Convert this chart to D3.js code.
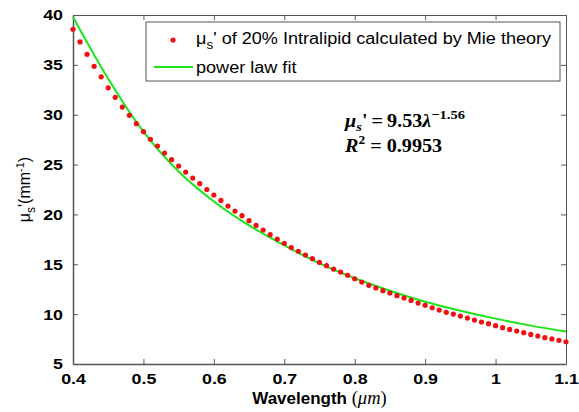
<!DOCTYPE html>
<html>
<head>
<meta charset="utf-8">
<script src="https://cdn.jsdelivr.net/npm/d3@7"></script>
<style>
  body { margin: 0; background: #fff; }
  svg { display: block; }
  .tick text { font-family: Arial, "Liberation Sans", sans-serif; font-weight: bold; font-size: 15.5px; fill: #000; }
</style>
</head>
<body>
<svg id="chart" width="579" height="412"></svg>
<script>
// wavelength (um) of the Mie points
const mieWavelengths = [
  0.40, 0.41, 0.42, 0.43, 0.44, 0.45, 0.46, 0.47, 0.48, 0.49,
  0.50, 0.51, 0.52, 0.53, 0.54, 0.55, 0.56, 0.57, 0.58, 0.59,
  0.60, 0.61, 0.62, 0.63, 0.64, 0.65, 0.66, 0.67, 0.68, 0.69,
  0.70, 0.71, 0.72, 0.73, 0.74, 0.75, 0.76, 0.77, 0.78, 0.79,
  0.80, 0.81, 0.82, 0.83, 0.84, 0.85, 0.86, 0.87, 0.88, 0.89,
  0.90, 0.91, 0.92, 0.93, 0.94, 0.95, 0.96, 0.97, 0.98, 0.99,
  1.00, 1.01, 1.02, 1.03, 1.04, 1.05, 1.06, 1.07, 1.08, 1.09, 1.10
];
// mu_s' (mm^-1)
const mieValues = [
  38.57, 37.3, 36.06, 34.85, 33.8, 32.7, 31.74, 30.77, 29.94, 29.1,
  28.3, 27.53, 26.86, 26.16, 25.49, 24.85, 24.25, 23.65, 23.08, 22.5,
  21.95, 21.4, 20.84, 20.34, 19.87, 19.37, 18.9, 18.44, 17.97, 17.53,
  17.1, 16.68, 16.3, 15.93, 15.56, 15.19, 14.86, 14.52, 14.22, 13.9,
  13.55, 13.22, 12.89, 12.62, 12.35, 12.12, 11.85, 11.62, 11.38, 11.11,
  10.88, 10.64, 10.41, 10.18, 10.01, 9.81, 9.61, 9.41, 9.21, 9.04,
  8.84, 8.64, 8.47, 8.31, 8.14, 7.97, 7.81, 7.64, 7.51, 7.37, 7.23
];
// power law fit line
const fitWavelengths = [0.40, 0.45, 0.50, 0.55, 0.60, 0.65, 0.70, 0.75, 0.80, 0.85, 0.90, 0.95, 1.00, 1.05, 1.10];
const fitValues = [39.8, 33.6, 28.3, 24.3, 21.3, 18.9, 16.9, 15.1, 13.6, 12.35, 11.25, 10.35, 9.55, 8.85, 8.25];

const xTicks = [0.4, 0.5, 0.6, 0.7, 0.8, 0.9, 1, 1.1];
const yTicks = [5, 10, 15, 20, 25, 30, 35, 40];

const width = 579, height = 412;
const margin = { top: 15, right: 13, bottom: 48, left: 73 };
const stretchX = 1.15; // the original picture is a bit wider than tall in its glyphs

const svg = d3.select("#chart");

const x = d3.scaleLinear().domain([0.4, 1.1]).range([margin.left, width - margin.right]);
const y = d3.scaleLinear().domain([5, 40]).range([height - margin.bottom, margin.top]);

const axisColor = "#555";

// widen glyphs around their own anchor
function stretch(sel, k) {
  sel.each(function () {
    const tx = +this.getAttribute("x") || 0;
    const ty = +this.getAttribute("y") || 0;
    this.setAttribute("x", 0);
    this.setAttribute("y", 0);
    this.setAttribute("transform", `translate(${tx},${ty}) scale(${k},1)`);
  });
}

// box + ticks on all four sides (matlab style, ticks pointing in)
svg.append("g")
  .attr("transform", `translate(0,${height - margin.bottom})`)
  .call(d3.axisBottom(x).tickValues(xTicks).tickSizeInner(-5).tickSizeOuter(0).tickPadding(9).tickFormat(d3.format("")))
  .call(g => g.selectAll("line").attr("stroke", axisColor))
  .call(g => g.select(".domain").attr("stroke", axisColor).attr("stroke-width", 1.5))
  .call(g => stretch(g.selectAll("text"), stretchX));

svg.append("g")
  .attr("transform", `translate(${margin.left},0)`)
  .call(d3.axisLeft(y).tickValues(yTicks).tickSizeInner(-5).tickSizeOuter(0).tickPadding(10))
  .call(g => g.selectAll("line").attr("stroke", axisColor))
  .call(g => g.select(".domain").attr("stroke", axisColor).attr("stroke-width", 1.5))
  .call(g => stretch(g.selectAll("text"), stretchX));

svg.append("g")
  .attr("transform", `translate(0,${margin.top})`)
  .call(d3.axisTop(x).tickValues(xTicks).tickSizeInner(-5).tickSizeOuter(0).tickFormat(""))
  .call(g => g.selectAll("line").attr("stroke", axisColor))
  .call(g => g.select(".domain").attr("stroke", axisColor));

svg.append("g")
  .attr("transform", `translate(${width - margin.right},0)`)
  .call(d3.axisRight(y).tickValues(yTicks).tickSizeInner(-5).tickSizeOuter(0).tickFormat(""))
  .call(g => g.selectAll("line").attr("stroke", axisColor))
  .call(g => g.select(".domain").attr("stroke", axisColor));

// fit line
const fitData = fitWavelengths.map((w, i) => ({ w, v: fitValues[i] }));
svg.append("path")
  .datum(fitData)
  .attr("fill", "none")
  .attr("stroke", "#19e619")
  .attr("stroke-width", 2)
  .attr("d", d3.line().curve(d3.curveMonotoneX).x(d => x(d.w)).y(d => y(d.v)));

// mie dots
const mieData = mieWavelengths.map((w, i) => ({ w, v: mieValues[i] }));
svg.append("g")
  .selectAll("circle")
  .data(mieData)
  .join("circle")
  .attr("cx", d => x(d.w))
  .attr("cy", d => y(d.v))
  .attr("r", 2.6)
  .attr("fill", "#f01010");

// legend
const legend = svg.append("g");
legend.append("rect")
  .attr("x", 146).attr("y", 22).attr("width", 414).attr("height", 59)
  .attr("fill", "#fff").attr("stroke", "#555").attr("stroke-width", 1);
legend.append("circle").attr("cx", 173).attr("cy", 40).attr("r", 2.6).attr("fill", "#f01010");
legend.append("line").attr("x1", 154).attr("x2", 193).attr("y1", 67).attr("y2", 67)
  .attr("stroke", "#19e619").attr("stroke-width", 2);

const legFont = 'Arial, "Liberation Sans", sans-serif';
const t1 = legend.append("text").attr("x", 196).attr("y", 44)
  .attr("font-family", legFont).attr("font-size", 16).attr("fill", "#000");
t1.append("tspan").text("\u03bc");
t1.append("tspan").attr("font-size", 12).attr("dy", 5).text("s");
t1.append("tspan").attr("dy", -5).text("' of 20% Intralipid calculated by Mie theory");
const t2 = legend.append("text").attr("x", 196).attr("y", 73)
  .attr("font-family", legFont).attr("font-size", 16).attr("fill", "#000")
  .text("power law fit");
stretch(t1, 1.13);
stretch(t2, 1.13);

// equation annotation
const serif = '"Liberation Serif", "Times New Roman", serif';
const eq = svg.append("text").attr("x", 345).attr("y", 127)
  .attr("font-family", serif).attr("font-size", 18).attr("font-weight", "bold").attr("fill", "#000");
eq.append("tspan").attr("font-style", "italic").text("\u03bc");
eq.append("tspan").attr("font-style", "italic").attr("font-size", 13).attr("dy", 4).text("s");
eq.append("tspan").attr("dy", -4).text("'\u2009=\u20099.53");
eq.append("tspan").attr("font-style", "italic").text("\u03bb");
eq.append("tspan").attr("font-size", 13).attr("dy", -8).text("\u22121.56");

const r2 = svg.append("text").attr("x", 345).attr("y", 152)
  .attr("font-family", serif).attr("font-size", 18).attr("font-weight", "bold").attr("fill", "#000");
r2.append("tspan").attr("font-style", "italic").text("R");
r2.append("tspan").attr("font-size", 12).attr("dy", -8).text("2");
r2.append("tspan").attr("dy", 8).text(" = 0.9953");
stretch(eq, 1.12);
stretch(r2, 1.12);

// axis labels
const xl = svg.append("text")
  .attr("x", (margin.left + width - margin.right) / 2).attr("y", 404)
  .attr("text-anchor", "middle").attr("fill", "#000");
xl.append("tspan").attr("font-family", legFont).attr("font-weight", "bold").attr("font-size", 16.5).text("Wavelength ");
xl.append("tspan").attr("font-family", serif).attr("font-size", 18).text("(");
xl.append("tspan").attr("font-family", serif).attr("font-style", "italic").attr("font-size", 18).text("\u03bcm");
xl.append("tspan").attr("font-family", serif).attr("font-size", 18).text(")");
stretch(xl, 1.03);

const yl = svg.append("text")
  .attr("transform", `translate(30,${(margin.top + height - margin.bottom) / 2}) rotate(-90)`)
  .attr("text-anchor", "middle")
  .attr("font-family", legFont).attr("font-size", 16).attr("fill", "#000");
yl.append("tspan").text("\u03bc");
yl.append("tspan").attr("font-size", 12).attr("dy", 5).text("s");
yl.append("tspan").attr("dy", -5).text("'(mm");
yl.append("tspan").attr("font-size", 11).attr("dy", -6).text("-1");
yl.append("tspan").attr("dy", 6).text(")");
</script>
</body>
</html>
